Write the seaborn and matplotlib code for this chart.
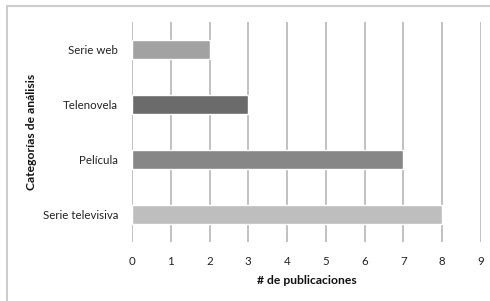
import matplotlib
matplotlib.use("Agg")
import matplotlib.pyplot as plt
import seaborn as sns
import pandas as pd
from matplotlib.lines import Line2D

categorias = ["Serie web", "Telenovela", "Película", "Serie televisiva"]
publicaciones = [2, 3, 7, 8]
colores = ["#a2a2a2", "#6b6b6b", "#878787", "#bebebe"]

df = pd.DataFrame({"cat": categorias, "n": publicaciones})

sns.set_style("white")
plt.rcParams["font.family"] = ["Lato", "DejaVu Sans"]

fig = plt.figure(figsize=(4.9, 3.01), dpi=100)
ax = fig.add_axes([0.2694, 0.196, 0.7122, 0.731])

sns.barplot(data=df, x="n", y="cat", hue="cat", palette=colores, legend=False,
            width=0.34, ax=ax, zorder=3, saturation=1)

ax.set_xlim(0, 9)
ax.set_xticks(range(0, 10))
ax.grid(axis="x", color="#bcbcbc", linewidth=1.3, zorder=0)
ax.grid(axis="y", visible=False)
for s in ax.spines.values():
    s.set_visible(False)
ax.tick_params(axis="both", length=0, labelsize=8.3, colors="#222222")
ax.tick_params(axis="x", pad=10)
ax.tick_params(axis="y", pad=10)

ax.set_xlabel("# de publicaciones", fontsize=8.7, fontweight="bold", color="#111111", labelpad=6)
ax.set_ylabel("Categorías de análisis", fontsize=8.7, fontweight="bold", color="#111111", labelpad=4)

# outer frame lines (left and top)
fig.add_artist(Line2D([7 / 490, 7 / 490], [0, 1 - 6 / 301], color="#cccccc", linewidth=1.5))
fig.add_artist(Line2D([7 / 490, 1], [1 - 6 / 301, 1 - 6 / 301], color="#cccccc", linewidth=1.5))

fig.savefig("out.png", dpi=100)
